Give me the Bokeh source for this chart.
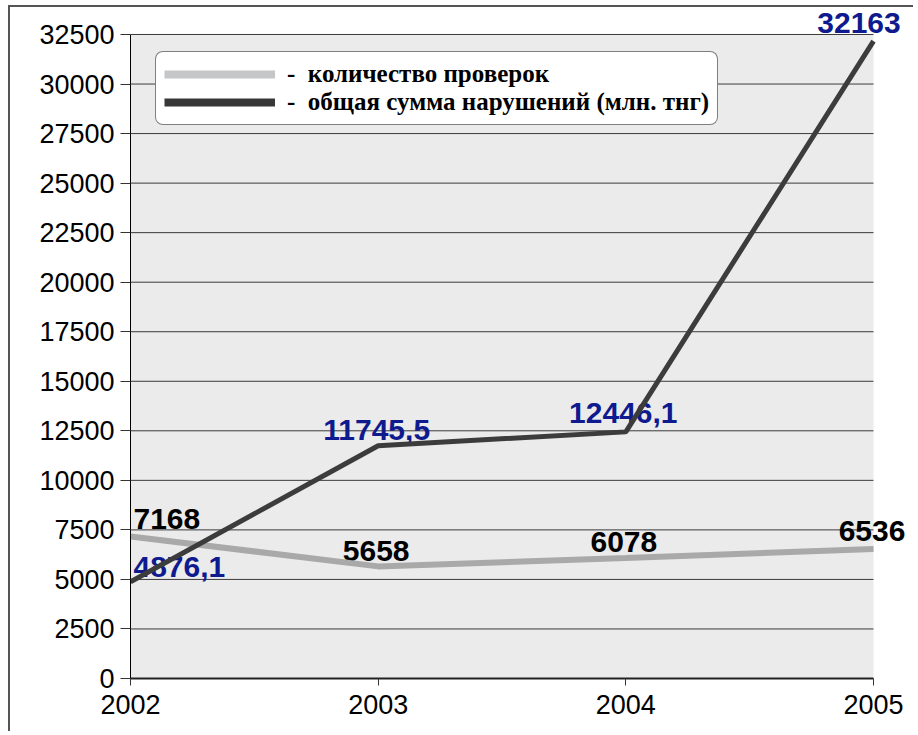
from bokeh.plotting import figure
from bokeh.models import ColumnDataSource, BoxAnnotation, Legend, LegendItem, FixedTicker
from bokeh.core.properties import value
from bokeh.embed import file_html
from bokeh.resources import INLINE

years = [2002, 2003, 2004, 2005]
checks = [7168, 5658, 6078, 6536]
violations = [4876.1, 11745.5, 12446.1, 32163]
checks_labels = ["7168", "5658", "6078", "6536"]
violations_labels = ["4876,1", "11745,5", "12446,1", "32163"]
y_ticks = list(range(0, 32501, 2500))
legend_labels = ["-  количество проверок", "-  общая сумма нарушений (млн. тнг)"]

# frame extends a little beyond the data area so that labels are not clipped
x_end = 2005.1494
y_end = 33711

p = figure(width=905, height=726, output_backend="svg", toolbar_location=None,
           x_range=(years[0], x_end), y_range=(y_ticks[0], y_end),
           min_border_left=120, min_border_right=5, min_border_top=3, min_border_bottom=55)
p.styles = {"margin-left": "8px", "margin-top": "5px",
            "border-top": "2px solid #555555", "border-left": "2px solid #555555"}
p.background_fill_color = "white"
p.border_fill_color = "white"
p.outline_line_color = None
p.xgrid.grid_line_color = None
p.ygrid.grid_line_color = None

p.add_layout(BoxAnnotation(left=years[0], right=years[-1], bottom=y_ticks[0], top=y_ticks[-1],
                           fill_color="#ebebeb", fill_alpha=1, line_color=None, level="underlay"))

# horizontal grid lines over the data area
grid_src = ColumnDataSource(dict(y=y_ticks[1:], x0=[years[0]] * (len(y_ticks) - 1),
                                 x1=[years[-1]] * (len(y_ticks) - 1)))
p.segment(x0="x0", x1="x1", y0="y", y1="y", source=grid_src, line_color="#3a3a3a", line_width=1)

p.yaxis.ticker = FixedTicker(ticks=y_ticks)
p.xaxis.ticker = FixedTicker(ticks=years)
p.yaxis.bounds = (y_ticks[0], y_ticks[-1])
p.xaxis.bounds = (years[0], years[-1])
p.yaxis.minor_tick_line_color = None
p.xaxis.minor_tick_line_color = None
p.yaxis.major_tick_out = 10
p.yaxis.major_tick_in = 0
p.xaxis.major_tick_out = 7
p.xaxis.major_tick_in = 0
p.yaxis.axis_line_color = "black"
p.xaxis.axis_line_color = "#222222"
p.xaxis.axis_line_width = 2
p.yaxis.major_tick_line_color = "#333333"
p.xaxis.major_tick_line_color = "#333333"
for ax in (p.xaxis, p.yaxis):
    ax.major_label_text_font = "Liberation Sans"
    ax.major_label_text_font_size = "27px"
    ax.major_label_text_color = "black"
p.yaxis.major_label_standoff = 6
p.xaxis.major_label_standoff = 9

# data labels (drawn beneath the lines)
lab_src = ColumnDataSource(dict(
    x=years, c=checks, v=violations, cl=checks_labels, vl=violations_labels,
    ca=["left", "center", "center", "center"], cxo=[3, -2, -2, -1.5], cyo=[-17, -15, -16, -18],
    va=["left", "center", "center", "center"], vxo=[3, -1.5, -2.5, -14.5], vyo=[-15, -16, -19, -18]))
p.text(x="x", y="c", text="cl", source=lab_src, x_offset="cxo", y_offset="cyo", text_align="ca",
       text_baseline="alphabetic", text_font=value("Liberation Sans"), text_font_style="bold",
       text_font_size="30px", text_color="black")
p.text(x="x", y="v", text="vl", source=lab_src, x_offset="vxo", y_offset="vyo", text_align="va",
       text_baseline="alphabetic", text_font=value("Liberation Sans"), text_font_style="bold",
       text_font_size="30px", text_color="#0e1a8e")

src = ColumnDataSource(dict(x=years, c=checks, v=violations))
p.line("x", "c", source=src, line_color="#a9a9a9", line_width=6)
p.line("x", "v", source=src, line_color="#3c3c3c", line_width=5)

nan = float("nan")
dummy = ColumnDataSource(dict(x=[nan], y=[nan]))
r1 = p.line("x", "y", source=dummy, line_color="#c4c6c8", line_width=8)
r2 = p.line("x", "y", source=dummy, line_color="#373737", line_width=8)

legend = Legend(items=[LegendItem(label=legend_labels[0], renderers=[r1]),
                       LegendItem(label=legend_labels[1], renderers=[r2])],
                location=(25, 553))
legend.label_text_font = "Liberation Serif"
legend.label_text_font_style = "bold"
legend.label_text_font_size = "25px"
legend.label_text_color = "black"
legend.glyph_width = 111
legend.glyph_height = 24
legend.label_height = 24
legend.label_standoff = 12
legend.spacing = 0
legend.padding = 8
legend.margin = 0
legend.border_line_color = "black"
legend.border_line_width = 1
legend.background_fill_color = "white"
legend.background_fill_alpha = 1
if "border_radius" in Legend.properties():
    legend.border_radius = 8
p.add_layout(legend)

open("out.html", "w").write(file_html(p, INLINE))
